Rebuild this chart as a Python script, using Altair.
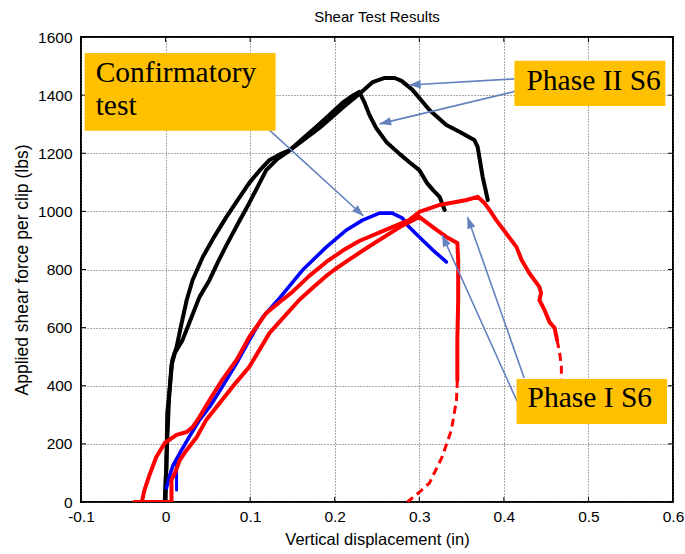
import math
import altair as alt
import pandas as pd

# ---------------- data ----------------
black_a_x = [-0.001, 0.000, 0.001, 0.002, 0.005, 0.008, 0.013, 0.019, 0.025, 0.032, 0.044, 0.058, 0.072,
             0.086, 0.099, 0.111, 0.123, 0.135, 0.147, 0.162, 0.178, 0.194, 0.209, 0.220, 0.229, 0.235,
             0.241, 0.249, 0.261, 0.277, 0.288, 0.300, 0.309, 0.316, 0.324, 0.330]
black_a_y = [0, 76, 120, 306, 396, 489, 533, 616, 695, 764, 843, 915, 981,
             1042, 1098, 1140, 1177, 1196, 1211, 1250, 1290, 1333, 1373, 1396, 1411, 1376,
             1332, 1287, 1239, 1197, 1170, 1142, 1098, 1074, 1050, 1005]

black_b_x = [0.000, 0.001, 0.004, 0.007, 0.011, 0.020, 0.028, 0.040, 0.052, 0.062, 0.072, 0.086, 0.099,
             0.119, 0.132, 0.144, 0.158, 0.182, 0.209, 0.229, 0.245, 0.259, 0.271, 0.279, 0.292, 0.312,
             0.332, 0.348, 0.365, 0.369, 0.375, 0.381]
black_b_y = [0, 145, 351, 471, 513, 557, 616, 705, 764, 826, 884, 960, 1029,
             1142, 1180, 1204, 1235, 1287, 1356, 1404, 1445, 1459, 1459, 1449, 1418, 1349,
             1297, 1273, 1246, 1222, 1118, 1039]

blue_x = [0.001, 0.005, 0.009, 0.019, 0.028, 0.040, 0.052, 0.067, 0.084, 0.099, 0.115, 0.135, 0.162,
          0.190, 0.214, 0.233, 0.253, 0.268, 0.280, 0.288, 0.300, 0.316, 0.332]
blue_y = [48, 93, 127, 179, 224, 282, 327, 396, 478, 557, 637, 702, 798,
          877, 936, 970, 994, 994, 977, 946, 912, 867, 826]
blue_stub_x = [0.013, 0.013]
blue_stub_y = [41, 138]

red1_x = [-0.028, -0.025, -0.019, -0.011, -0.001, 0.013, 0.025, 0.032, 0.040, 0.052, 0.067, 0.084,
          0.099, 0.119, 0.135, 0.150, 0.170, 0.190, 0.210, 0.229, 0.268, 0.288, 0.300, 0.324, 0.356,
          0.369, 0.377, 0.383, 0.391, 0.415, 0.421, 0.430, 0.442, 0.444, 0.442, 0.448, 0.454, 0.460,
          0.463]
red1_y = [0, 41, 93, 155, 203, 231, 241, 258, 292, 351, 420, 489,
          568, 650, 688, 723, 778, 826, 866, 898, 946, 970, 998, 1022, 1039,
          1050, 1029, 1005, 970, 877, 833, 788, 740, 719, 695, 661, 619, 599,
          557]
red1_dash_x = [0.463, 0.466, 0.468, 0.468, 0.468]
red1_dash_y = [557, 513, 465, 427, 368]

red2_x = [-0.037, 0.007, 0.007, 0.011, 0.017, 0.025, 0.037, 0.048, 0.064, 0.079, 0.099, 0.123, 0.158,
          0.175, 0.190, 0.200, 0.214, 0.241, 0.277, 0.300, 0.316, 0.332, 0.345, 0.346, 0.346, 0.345,
          0.345]
red2_y = [0, 0, 76, 100, 145, 179, 224, 282, 341, 396, 465, 582, 695,
          740, 778, 800, 828, 880, 946, 981, 946, 912, 891, 833, 695, 557,
          420]
red2_dash_x = [0.345, 0.344, 0.338, 0.327, 0.312, 0.299, 0.286]
red2_dash_y = [420, 351, 248, 155, 65, 31, 0]

x_ticks = [-0.1, 0.0, 0.1, 0.2, 0.3, 0.4, 0.5, 0.6]
y_ticks = [0, 200, 400, 600, 800, 1000, 1200, 1400, 1600]

# annotation boxes (data coordinates)
box_x1 = [-0.0957, 0.4125, 0.415]
box_x2 = [0.130, 0.591, 0.593]
box_y1 = [1545, 1518, 423]
box_y2 = [1277, 1363, 268]

label_text = ["Confirmatory", "test", "Phase II S6", "Phase I S6"]
label_x = [-0.0827, -0.0827, 0.4267, 0.428]
label_y = [1445, 1332, 1418, 327]

arrow_x_start = [0.119, 0.4125, 0.415, 0.416, 0.424]
arrow_y_start = [1290, 1456, 1414, 344, 427]
arrow_x_tip = [0.234, 0.288, 0.253, 0.327, 0.357]
arrow_y_tip = [984, 1435, 1301, 919, 981]

# ---------------- chart ----------------
W, H = 592, 465
X_MIN, X_MAX = -0.1, 0.6
Y_MIN, Y_MAX = 0, 1600
ARROW = "#6381BD"
FONT = "Liberation Sans"

xscale = alt.Scale(domain=[X_MIN, X_MAX], nice=False, zero=False)
yscale = alt.Scale(domain=[Y_MIN, Y_MAX], nice=False, zero=False)

xaxis = alt.Axis(values=x_ticks, labelExpr="toString(round(datum.value*10)/10)", grid=True,
                 gridDash=[1, 2], gridColor="#555", gridWidth=1, ticks=False, domain=False,
                 labelFont=FONT, labelFontSize=15.5, labelColor="black", labelPadding=7,
                 labelFlush=False, labelOverlap=False, labelBound=False,
                 title="Vertical displacement (in)", titleFont=FONT, titleFontSize=16.5,
                 titleFontWeight="normal", titleColor="black", titlePadding=7)
yaxis = alt.Axis(values=y_ticks, format="d", grid=True, gridDash=[1, 2], gridColor="#555", gridWidth=1,
                 ticks=False, domain=False, labelFont=FONT, labelFontSize=15.5, labelColor="black",
                 labelPadding=9, labelFlush=False, labelOverlap=False, labelBound=False,
                 title="Applied shear force per clip (lbs)", titleFont=FONT, titleFontSize=17.5,
                 titleFontWeight="normal", titleColor="black", titlePadding=6)

X = alt.X("x:Q", scale=xscale, axis=xaxis)
Y = alt.Y("y:Q", scale=yscale, axis=yaxis)


def curve(xs, ys):
    return pd.DataFrame({"x": xs, "y": ys, "i": list(range(len(xs)))})


def line_layer(xs, ys, color, dash=None, width=4):
    kw = dict(color=color, strokeWidth=width, strokeCap="round", strokeJoin="round", clip=True)
    if dash:
        kw["strokeDash"] = dash
        kw["strokeCap"] = "butt"
    return alt.Chart(curve(xs, ys)).mark_line(**kw).encode(x=X, y=Y, order="i:Q")


grid_x = pd.DataFrame({"x": x_ticks})
grid_y = pd.DataFrame({"y": y_ticks})
tick_bottom = alt.Chart(grid_x).mark_rule(color="black", strokeWidth=1).encode(
    x=X, y=alt.value(H), y2=alt.value(H - 5))
tick_top = alt.Chart(grid_x).mark_rule(color="black", strokeWidth=1).encode(
    x=X, y=alt.value(0), y2=alt.value(5))
tick_left = alt.Chart(grid_y).mark_rule(color="black", strokeWidth=1).encode(
    y=Y, x=alt.value(0), x2=alt.value(5))
tick_right = alt.Chart(grid_y).mark_rule(color="black", strokeWidth=1).encode(
    y=Y, x=alt.value(W), x2=alt.value(W - 5))

layers = [
    tick_bottom, tick_top, tick_left, tick_right,
    line_layer(black_a_x, black_a_y, "black"),
    line_layer(black_b_x, black_b_y, "black"),
    line_layer(blue_x, blue_y, "#0000FF", width=3.6),
    line_layer(blue_stub_x, blue_stub_y, "#0000FF", width=3),
    line_layer(red1_x, red1_y, "#FF0000"),
    line_layer(red1_dash_x, red1_dash_y, "#FF0000", dash=[8, 5], width=3),
    line_layer(red2_x, red2_y, "#FF0000"),
    line_layer(red2_dash_x, red2_dash_y, "#FF0000", dash=[8, 5], width=3),
]

# arrows
kx = W / (X_MAX - X_MIN)
ky = H / (Y_MAX - Y_MIN)
angles = []
for xs_, ys_, xt, yt in zip(arrow_x_start, arrow_y_start, arrow_x_tip, arrow_y_tip):
    dx = (xt - xs_) * kx
    dy = -(yt - ys_) * ky
    angles.append(math.degrees(math.atan2(dx, -dy)) % 360)

arrows_df = pd.DataFrame({"x": arrow_x_start, "y": arrow_y_start,
                          "x2": arrow_x_tip, "y2": arrow_y_tip})
heads_df = pd.DataFrame({"x": arrow_x_tip, "y": arrow_y_tip, "angle": angles})

arrow_lines = alt.Chart(arrows_df).mark_rule(color=ARROW, strokeWidth=1.6).encode(
    x=X, y=Y, x2="x2:Q", y2="y2:Q")
arrow_heads = alt.Chart(heads_df).mark_point(
    shape="M0,0L0.8,2.2L-0.8,2.2Z", filled=True, size=110, color=ARROW, opacity=1, strokeWidth=0
).encode(x=X, y=Y, angle=alt.Angle("angle:Q", scale=None))

boxes_df = pd.DataFrame({"x": box_x1, "x2": box_x2, "y": box_y1, "y2": box_y2})
boxes = alt.Chart(boxes_df).mark_rect(color="#FFC000", opacity=1).encode(
    x=X, x2="x2:Q", y=Y, y2="y2:Q")

labels_df = pd.DataFrame({"x": label_x, "y": label_y, "t": label_text})
labels = alt.Chart(labels_df).mark_text(
    align="left", baseline="alphabetic", font="Liberation Serif", fontSize=29.5, color="black"
).encode(x=X, y=Y, text="t:N")

layers += [arrow_lines, arrow_heads, boxes, labels]

chart = alt.layer(*layers).properties(
    width=W, height=H,
    autosize=alt.AutoSizeParams(type="none"),
    padding={"left": 81, "top": 37, "right": 12, "bottom": 52},
    title=alt.TitleParams("Shear Test Results", font=FONT, fontSize=15, fontWeight="normal",
                          color="black", anchor="middle", offset=5),
    background="white",
).configure_view(stroke="black", strokeWidth=2)

chart.save("out.html", embed_options={"renderer": "svg", "actions": False})
